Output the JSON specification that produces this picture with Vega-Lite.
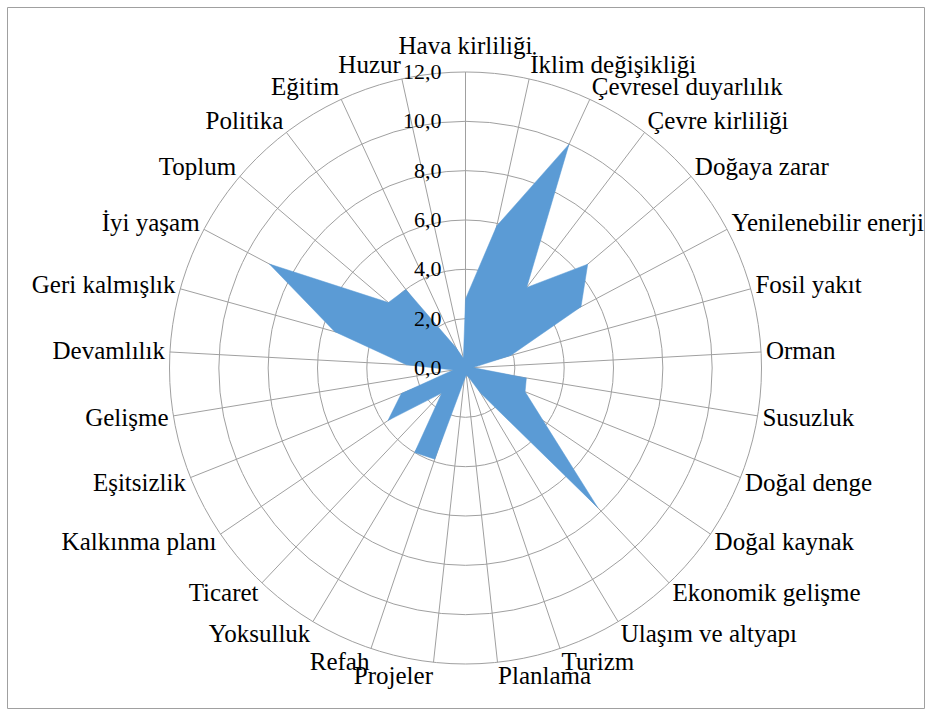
{
  "$schema": "https://vega.github.io/schema/vega-lite/v6.json",
  "width": 917,
  "height": 701,
  "autosize": {"type": "none"},
  "padding": {"left": 7, "top": 7, "right": 7, "bottom": 7},
  "background": "white",
  "config": {"view": {"stroke": "#a0a0a0", "strokeWidth": 1}},
  "datasets": {
    "cats": [
      {"name": "Hava kirliliği", "value": 2.8},
      {"name": "İklim değişikliği", "value": 5.9},
      {"name": "Çevresel duyarlılık", "value": 10.0},
      {"name": "Çevre kirliliği", "value": 4.1},
      {"name": "Doğaya zarar", "value": 6.5},
      {"name": "Yenilenebilir enerji", "value": 5.3},
      {"name": "Fosil yakıt", "value": 1.9},
      {"name": "Orman", "value": 0.3},
      {"name": "Susuzluk", "value": 2.5},
      {"name": "Doğal denge", "value": 2.6},
      {"name": "Doğal kaynak", "value": 3.8},
      {"name": "Ekonomik gelişme", "value": 7.8},
      {"name": "Ulaşım ve altyapı", "value": 1.2},
      {"name": "Turizm", "value": 0.4},
      {"name": "Planlama", "value": 0.3},
      {"name": "Projeler", "value": 0.5},
      {"name": "Refah", "value": 3.9},
      {"name": "Yoksulluk", "value": 4.0},
      {"name": "Ticaret", "value": 1.4},
      {"name": "Kalkınma planı", "value": 3.8},
      {"name": "Eşitsizlik", "value": 2.8},
      {"name": "Gelişme", "value": 0.5},
      {"name": "Devamlılık", "value": 2.4},
      {"name": "Geri kalmışlık", "value": 5.5},
      {"name": "İyi yaşam", "value": 9.0},
      {"name": "Toplum", "value": 4.1},
      {"name": "Politika", "value": 4.0},
      {"name": "Eğitim", "value": 0.9},
      {"name": "Huzur", "value": 0.4}
    ],
    "rings": [
      {"level": 2}, {"level": 4}, {"level": 6}, {"level": 8}, {"level": 10}, {"level": 12}
    ],
    "ticks": [
      {"level": 0, "label": "0,0"},
      {"level": 2, "label": "2,0"},
      {"level": 4, "label": "4,0"},
      {"level": 6, "label": "6,0"},
      {"level": 8, "label": "8,0"},
      {"level": 10, "label": "10,0"},
      {"level": 12, "label": "12,0"}
    ]
  },
  "layer": [
    {
      "data": {"name": "rings"},
      "transform": [
        {"calculate": "0", "as": "cx"},
        {"calculate": "0", "as": "cy"}
      ],
      "mark": {"type": "arc", "theta": 0, "theta2": 6.2832, "fill": "transparent", "stroke": "#a0a0a0", "strokeWidth": 1},
      "encoding": {
        "x": {"field": "cx", "type": "quantitative", "scale": {"domain": [-18.588, 18.588], "nice": false, "zero": false}, "axis": null},
        "y": {"field": "cy", "type": "quantitative", "scale": {"domain": [-13.784, 14.635], "nice": false, "zero": false}, "axis": null},
        "radius": {"field": "level", "type": "quantitative", "stack": null, "scale": {"type": "linear", "domain": [0, 12], "range": [0, 296], "zero": true}}
      }
    },
    {
      "data": {"name": "cats"},
      "transform": [
        {"window": [{"op": "row_number", "as": "rn"}]},
        {"calculate": "(datum.rn - 1) * 2 * PI / 29", "as": "ang"},
        {"calculate": "0", "as": "cx"},
        {"calculate": "0", "as": "cy"},
        {"calculate": "12 * sin(datum.ang)", "as": "sx"},
        {"calculate": "12 * cos(datum.ang)", "as": "sy"}
      ],
      "mark": {"type": "rule", "stroke": "#a0a0a0", "strokeWidth": 1},
      "encoding": {
        "x": {"field": "cx", "type": "quantitative"},
        "y": {"field": "cy", "type": "quantitative"},
        "x2": {"field": "sx"},
        "y2": {"field": "sy"}
      }
    },
    {
      "data": {"name": "cats"},
      "transform": [
        {"window": [{"op": "row_number", "as": "rn"}]},
        {"calculate": "(datum.rn - 1) * 2 * PI / 29", "as": "ang"},
        {"calculate": "datum.value * sin(datum.ang)", "as": "px"},
        {"calculate": "datum.value * cos(datum.ang)", "as": "py"}
      ],
      "mark": {"type": "line", "interpolate": "linear-closed", "fill": "#5b9bd5", "stroke": "#5b9bd5", "strokeWidth": 0.5, "fillOpacity": 1},
      "encoding": {
        "x": {"field": "px", "type": "quantitative"},
        "y": {"field": "py", "type": "quantitative"},
        "order": {"field": "rn", "type": "quantitative"}
      }
    },
    {
      "data": {"name": "ticks"},
      "transform": [
        {"calculate": "0", "as": "cx"}
      ],
      "mark": {"type": "text", "align": "right", "baseline": "middle", "dx": -24, "font": "Liberation Serif", "fontSize": 22, "color": "#000000"},
      "encoding": {
        "x": {"field": "cx", "type": "quantitative"},
        "y": {"field": "level", "type": "quantitative"},
        "text": {"field": "label"}
      }
    },
    {
      "data": {"name": "cats"},
      "transform": [
        {"window": [{"op": "row_number", "as": "rn"}]},
        {"filter": "datum.rn == 1"},
        {"calculate": "0", "as": "lx"},
        {"calculate": "12.2", "as": "ly"}
      ],
      "mark": {"type": "text", "align": "center", "baseline": "bottom", "dy": -8, "font": "Liberation Serif", "fontSize": 25, "color": "#000000"},
      "encoding": {
        "x": {"field": "lx", "type": "quantitative"},
        "y": {"field": "ly", "type": "quantitative"},
        "text": {"field": "name"}
      }
    },
    {
      "data": {"name": "cats"},
      "transform": [
        {"window": [{"op": "row_number", "as": "rn"}]},
        {"filter": "datum.rn >= 2 && datum.rn <= 15"},
        {"calculate": "(datum.rn - 1) * 2 * PI / 29", "as": "ang"},
        {"calculate": "12.2 * sin(datum.ang)", "as": "lx"},
        {"calculate": "12.565 * cos(datum.ang)", "as": "ly"}
      ],
      "mark": {"type": "text", "align": "left", "baseline": "middle", "font": "Liberation Serif", "fontSize": 25, "color": "#000000"},
      "encoding": {
        "x": {"field": "lx", "type": "quantitative"},
        "y": {"field": "ly", "type": "quantitative"},
        "text": {"field": "name"}
      }
    },
    {
      "data": {"name": "cats"},
      "transform": [
        {"window": [{"op": "row_number", "as": "rn"}]},
        {"filter": "datum.rn >= 16"},
        {"calculate": "(datum.rn - 1) * 2 * PI / 29", "as": "ang"},
        {"calculate": "12.2 * sin(datum.ang)", "as": "lx"},
        {"calculate": "12.565 * cos(datum.ang)", "as": "ly"}
      ],
      "mark": {"type": "text", "align": "right", "baseline": "middle", "font": "Liberation Serif", "fontSize": 25, "color": "#000000"},
      "encoding": {
        "x": {"field": "lx", "type": "quantitative"},
        "y": {"field": "ly", "type": "quantitative"},
        "text": {"field": "name"}
      }
    }
  ]
}
